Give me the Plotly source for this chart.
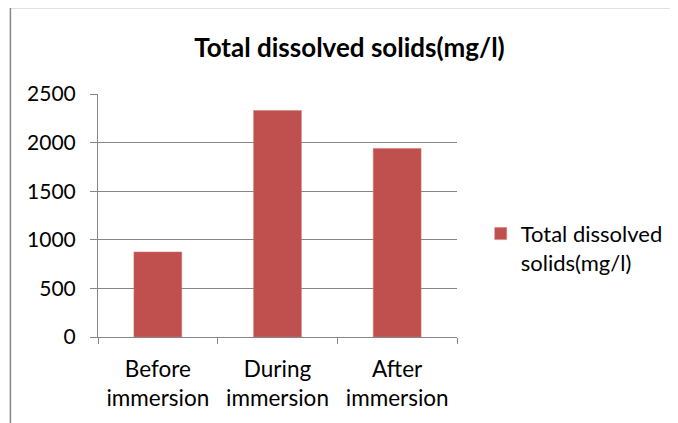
import plotly.graph_objects as go

# data
categories = ["Before<br>immersion", "During<br>immersion", "After<br>immersion"]
tds_values = [875, 2330, 1940]
series_name = "Total dissolved<br>solids(mg/l)"
y_ticks = [0, 500, 1000, 1500, 2000, 2500]

FONT = "Lato"
GREY = "#868686"

# the html body has an 8px margin, so the figure is sized 8px smaller
W, H = 670, 415

fig = go.Figure(go.Bar(
    x=categories,
    y=tds_values,
    name=series_name,
    marker_color="#C0504D",
    marker_line=dict(color="#D27B78", width=0.5),
    width=0.4,
    showlegend=True,
))

fig.update_layout(
    width=W, height=H,
    margin=dict(l=90, r=221, t=86, b=86, autoexpand=False),
    paper_bgcolor="white",
    plot_bgcolor="white",
    font=dict(family=FONT, size=21, color="black"),
    title=dict(
        text="<b>Total dissolved solids(mg/l)</b>",
        x=341.5 / W, xref="container", xanchor="center",
        y=1 - 40 / H, yref="container", yanchor="middle",
        font=dict(family=FONT, size=26, color="black"),
    ),
    legend=dict(
        x=1.066, y=0.365, xanchor="left", yanchor="middle",
        font=dict(size=22),
        itemwidth=30,
        valign="top",
    ),
    xaxis=dict(
        showline=True, linecolor=GREY, linewidth=1,
        ticks="outside", tickson="boundaries", ticklen=6, tickcolor=GREY,
        showgrid=False,
        tickfont=dict(size=22.5),
        ticklabelstandoff=12,
    ),
    yaxis=dict(
        range=[0, 2500], tickvals=y_ticks,
        showline=True, linecolor=GREY, linewidth=1,
        ticks="outside", ticklen=7, tickcolor=GREY,
        showgrid=True, gridcolor=GREY, gridwidth=1,
        zeroline=False,
        ticklabelstandoff=10,
    ),
    shapes=[
        # chart-area frame, cropped on the right and bottom in the reference
        dict(type="line", xref="paper", yref="paper",
             x0=-0.244, x1=1.62, y0=1.356, y1=1.356,
             line=dict(color=GREY, width=1.5)),
        dict(type="line", xref="paper", yref="paper",
             x0=-0.244, x1=-0.244, y0=1.356, y1=-0.36,
             line=dict(color=GREY, width=1.5)),
    ],
)

fig.write_html("out.html")
